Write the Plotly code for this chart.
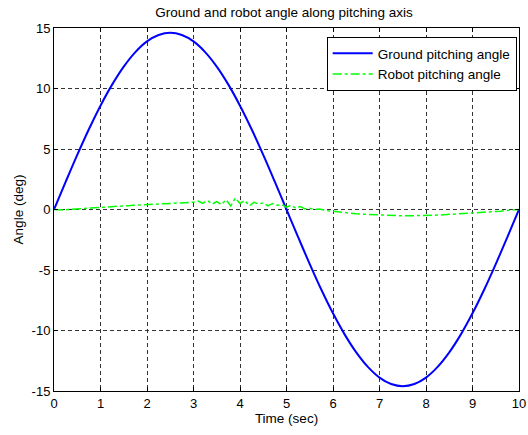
import plotly.graph_objects as go

# Ground pitching angle
t_ground = [0, 0.25, 0.5, 0.75, 1.0, 1.25, 1.5, 1.75, 2.0, 2.25, 2.5, 2.75, 3.0, 3.25, 3.5, 3.75, 4.0,
            4.25, 4.5, 4.75, 5.0, 5.25, 5.5, 5.75, 6.0, 6.25, 6.5, 6.75, 7.0, 7.25, 7.5, 7.75, 8.0,
            8.25, 8.5, 8.75, 9.0, 9.25, 9.5, 9.75, 10.0]
ground = [0.0, 2.28, 4.51, 6.63, 8.58, 10.32, 11.81, 13.01, 13.89, 14.42, 14.6, 14.42, 13.89, 13.01,
          11.81, 10.32, 8.58, 6.63, 4.51, 2.28, 0.0, -2.28, -4.51, -6.63, -8.58, -10.32, -11.81,
          -13.01, -13.89, -14.42, -14.6, -14.42, -13.89, -13.01, -11.81, -10.32, -8.58, -6.63,
          -4.51, -2.28, 0.0]

# Robot pitching angle
t_robot = [round(i * 0.1, 1) for i in range(101)]
robot = [0.0, -0.05, -0.05, 0.0, 0.02, 0.05, 0.08, 0.1, 0.13, 0.15, 0.18,
         0.2, 0.22, 0.25, 0.27, 0.3, 0.32, 0.35, 0.37, 0.4, 0.42,
         0.45, 0.47, 0.5, 0.52, 0.55, 0.55, 0.58, 0.6, 0.58, 0.6,
         0.7, 0.5, 0.75, 0.45, 0.65, 0.4, 0.8, 0.3, 0.95, 0.5,
         0.75, 0.3, 0.6, 0.45, 0.55, 0.3, 0.5, 0.35, 0.4, 0.2,
         0.35, 0.1, 0.25, 0.05, 0.1, 0.0, 0.05, -0.05, -0.1, -0.15,
         -0.2, -0.25, -0.28, -0.3, -0.35, -0.38, -0.4, -0.42, -0.45, -0.47,
         -0.48, -0.5, -0.5, -0.52, -0.52, -0.52, -0.52, -0.5, -0.5, -0.5,
         -0.48, -0.47, -0.45, -0.43, -0.42, -0.4, -0.38, -0.35, -0.33, -0.3,
         -0.28, -0.25, -0.22, -0.2, -0.17, -0.14, -0.1, -0.08, -0.05, 0.0]

# Tick labels
x_ticks = [0, 1, 2, 3, 4, 5, 6, 7, 8, 9, 10]
x_ticktext = ["0", "1", "2", "3", "4", "5", "6", "7", "8", "9", "10"]
y_ticks = [-15, -10, -5, 0, 5, 10, 15]
y_ticktext = ["-15", "-10", "-5", "0", "5", "10", "15"]

fig = go.Figure()
fig.add_trace(go.Scatter(x=t_ground, y=ground, mode="lines", name="Ground pitching angle",
                         line=dict(color="#0000ff", width=2, shape="spline")))
fig.add_trace(go.Scatter(x=t_robot, y=robot, mode="lines", name="Robot pitching angle",
                         line=dict(color="#00ff00", width=1.5, dash="dashdot")))

font = "Liberation Sans, Arial, sans-serif"
fs = 13
axis_common = dict(showline=True, linecolor="black", linewidth=1, mirror="ticks",
                   ticks="inside", ticklen=4, tickcolor="black",
                   showgrid=True, gridcolor="#333333", gridwidth=1, griddash="4px,3px",
                   zeroline=False, ticklabeloverflow="allow", automargin=False,
                   tickfont=dict(size=fs, color="black", family=font))

fig.update_layout(
    width=528, height=435,
    margin=dict(l=54, r=9, t=28, b=44),
    paper_bgcolor="white", plot_bgcolor="white",
    font=dict(family=font, size=fs, color="black"),
    title=dict(text="Ground and robot angle along pitching axis", x=0.538, xanchor="center",
               y=0.972, yanchor="middle", font=dict(size=13.5, color="black")),
    xaxis=dict(range=[0, 10], tickvals=x_ticks, ticktext=x_ticktext,
               title=dict(text="Time (sec)", font=dict(size=13.5), standoff=2), **axis_common),
    yaxis=dict(range=[-15, 15], tickvals=y_ticks, ticktext=y_ticktext,
               title=dict(text="Angle (deg)", font=dict(size=13.5), standoff=4), **axis_common),
    legend=dict(x=0.995, y=0.975, xanchor="right", yanchor="top", bgcolor="white",
                bordercolor="black", borderwidth=1, font=dict(size=13.5, color="black"),
                tracegroupgap=0, itemwidth=40),
    showlegend=True,
)

fig.write_html("out.html", config={"displayModeBar": False},
               post_script="document.body.style.margin='0';document.body.style.overflow='hidden';")
